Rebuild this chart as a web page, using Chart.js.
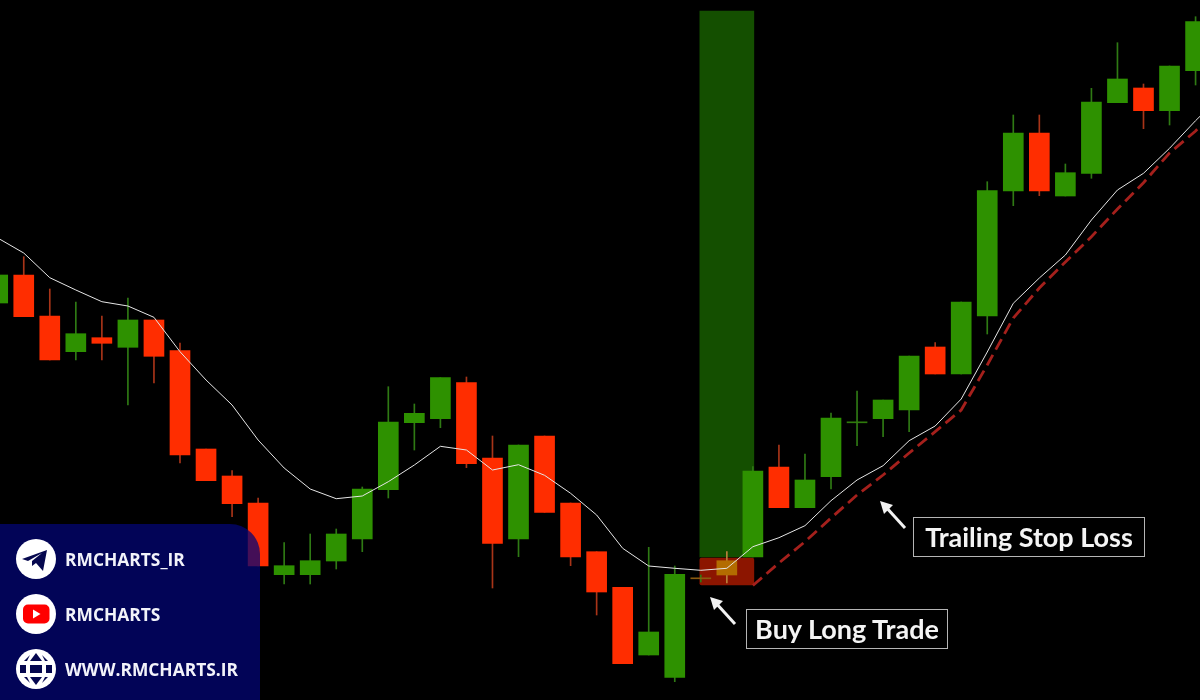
<!DOCTYPE html>
<html>
<head>
<meta charset="utf-8">
<title>Trailing Stop Loss</title>
<script src="https://cdn.jsdelivr.net/npm/chart.js@4"></script>
<style>
  html, body { margin: 0; background: #000; }
  #stage { position: relative; width: 1200px; height: 700px; overflow: hidden; background: #000; }
  #priceChart { position: absolute; left: 0; top: 0; }
  #arrows { position: absolute; left: 0; top: 0; }
  .callout {
    position: absolute; box-sizing: border-box; height: 40px; border: 1.5px solid #b5b5b5;
    color: #f4f4f4; font: 700 27px/37px Lato, sans-serif; text-align: center; white-space: nowrap;
  }
  #panel {
    position: absolute; left: 0; top: 524px; width: 260px; height: 176px;
    background: rgba(3, 5, 118, .74); border-top-right-radius: 30px;
  }
  .row { position: absolute; left: 16px; height: 40px; display: flex; align-items: center; }
  .row svg { width: 40px; height: 40px; margin-right: 9px; }
  .row span { color: #f2f3fa; font: 700 17.4px "Open Sans", sans-serif; }
</style>
</head>
<body>
<div id="stage">
  <canvas id="priceChart" width="1200" height="700"></canvas>

  <svg id="arrows" width="1200" height="700">
    <g stroke="#f2f2f2" stroke-width="3" fill="#f2f2f2">
      <line x1="735" y1="624" x2="715" y2="602" />
      <polygon points="710,597 723,601 714,610" stroke="none" />
      <line x1="905" y1="528" x2="885" y2="506" />
      <polygon points="880,501 893,505 884,514" stroke="none" />
    </g>
  </svg>

  <div class="callout" style="left:746px;top:609px;width:202px">Buy Long Trade</div>
  <div class="callout" style="left:913px;top:517px;width:232px">Trailing Stop Loss</div>

  <div id="panel">
    <div class="row" style="top:15px">
      <svg viewBox="0 0 40 40">
        <circle cx="20" cy="20" r="20" fill="#fff" />
        <path d="M6 20 L31 11 L27 32 L20 24 L16 27 L16 22 L26 14 L12 22 Z" fill="#06084f" />
      </svg>
      <span>RMCHARTS_IR</span>
    </div>
    <div class="row" style="top:70px">
      <svg viewBox="0 0 40 40">
        <circle cx="20" cy="20" r="20" fill="#fff" />
        <rect x="7" y="10.5" width="26.5" height="19" rx="5" fill="#f00" />
        <path d="M17 15.5 L24.5 20 L17 24.5 Z" fill="#fff" />
      </svg>
      <span>RMCHARTS</span>
    </div>
    <div class="row" style="top:125px">
      <svg viewBox="0 0 40 40">
        <circle cx="20" cy="20" r="20" fill="#fff" />
        <g fill="#05074f">
          <rect x="4" y="16" width="6" height="8" />
          <rect x="14" y="16" width="12" height="8" />
          <rect x="30" y="16" width="6" height="8" />
          <path d="M20 4 L26 12 L14 12 Z" />
          <path d="M20 36 L26 28 L14 28 Z" />
          <path d="M8 12 L11 12 L14 6 Z" />
          <path d="M32 12 L29 12 L26 6 Z" />
          <path d="M8 28 L11 28 L14 34 Z" />
          <path d="M32 28 L29 28 L26 34 Z" />
        </g>
      </svg>
      <span>WWW.RMCHARTS.IR</span>
    </div>
  </div>
</div>

<script>
// Candle data (no axis labels there, so the price unit is arbitrary)
const candles = [0, 1, 2, 3, 4, 5, 6, 7, 8, 9, 10, 11, 12, 13, 14, 15, 16, 17, 18, 19, 20, 21, 22, 23,
  24, 25, 26, 27, 28, 29, 30, 31, 32, 33, 34, 35, 36, 37, 38, 39, 40, 41, 42, 43, 44, 45, 46, 47];
const opens = [397, 425, 384, 348.3, 362.3, 352.7, 380, 349.3, 251, 224, 197, 125.3, 125.3, 139, 161, 210.3,
  277.3, 281.3, 317.3, 242, 161, 264, 197, 148.3, 112.7, 45, 22.7, 121.2, 125, 143, 233, 192.3,
  223.3, 277.2, 281.3, 290, 353, 326, 384, 509, 567, 504, 526.7, 597.3, 612, 589.3, 629.3];
const closes = [425, 383.3, 340, 366.3, 356.7, 380, 343.7, 245, 219.3, 196.3, 134, 134.3, 139.3, 166, 211, 278,
  286.7, 322.3, 236.3, 156.7, 255, 187.7, 143, 108, 36.3, 68, 125.7, 122.2, 139.3, 229, 192.3, 220,
  282, 278.2, 300, 344, 326, 398, 509.3, 567, 509, 527.3, 598, 621, 589.3, 634, 678.3];
const highs = [425, 443.3, 411, 398, 384, 402, 380, 357, 251, 229.3, 202, 157.3, 166, 171, 213, 313.3,
  296, 322.3, 323, 264, 255, 264, 197, 148.3, 112.7, 152.7, 134, 125, 148.3, 233.3, 255, 246,
  287, 309, 300, 344, 357.3, 398, 518.3, 585, 585, 536, 611.7, 657.3, 616, 634, 683.3];
const lows = [397, 383.3, 340, 340, 340, 295, 317, 237, 219.3, 183.3, 134, 116, 116, 131, 148.3, 202,
  250, 272.3, 232.3, 112, 143.3, 187.7, 134.3, 85, 36.3, 45, 18.3, 118, 117, 143, 192.3, 192.3,
  211, 254.3, 263.3, 268.3, 326, 326, 366, 494.3, 504.3, 504, 521.7, 597.3, 571.3, 575, 615];

// White moving average and red dashed trailing stop
const movingAverage = [462, 447, 422.3, 410, 398.3, 394, 382.7, 348.3, 320, 295, 260, 232, 211, 201.3, 204, 218.3,
  235, 253.7, 250, 230, 235.3, 224.7, 206.7, 185, 151.7, 134, 131.7, 129.7, 131.7, 153.3, 162.3, 174.3,
  199.3, 220, 234.3, 259.3, 274, 301, 348, 396.7, 422, 445, 480, 510, 526.7, 551.7, 579.3, 605];
const trailingStop = [null, null, null, null, null, null, null, null, null, null, null, null, null, null, null, null,
  null, null, null, null, null, null, null, null, null, null, null, null, null, 114.5, 137, 158.3,
  182, 205, 225, 247, 268.3, 290, 335, 382, 412, 438, 463.3, 491, 517.3, 547, 569, 595];

// Trade box around the entry candle
const entryCandle = 28;
const targetZone = [143, 689];
const stopZone = [115, 142];

const GREEN = '#2e9100';
const RED = '#ff2d00';

function bodyColor(i) {
  if (i === entryCandle) return '#b36c00';
  if (Math.abs(opens[i] - closes[i]) <= 1) return i === 27 ? '#8a5a10' : '#2f7a0c';
  return closes[i] >= opens[i] ? GREEN : RED;
}

function wickColor(i) {
  if (i === entryCandle) return '#b9803a';
  return closes[i] >= opens[i] ? '#2f7a14' : '#a83418';
}

const visible = opens.map((o, i) => i);

const priceChart = new Chart(document.getElementById('priceChart'), {
  type: 'bar',
  data: {
    labels: candles,
    datasets: [
      {
        label: 'Target',
        data: [{ x: entryCandle, y: targetZone }],
        backgroundColor: '#144f00',
        barThickness: 54,
        order: 10
      },
      {
        label: 'Stop',
        data: [{ x: entryCandle, y: stopZone }],
        backgroundColor: '#8c1500',
        barThickness: 54,
        borderRadius: 2,
        borderSkipped: false,
        order: 9
      },
      {
        label: 'Wicks',
        data: visible.map(i => ({ x: candles[i], y: [lows[i], highs[i]] })),
        backgroundColor: visible.map(wickColor),
        barThickness: 1,
        order: 5
      },
      {
        label: 'Bodies',
        data: visible.map(i => ({ x: candles[i], y: [opens[i], closes[i]] })),
        backgroundColor: visible.map(bodyColor),
        barThickness: 20,
        order: 4
      },
      {
        type: 'line',
        label: 'Trailing stop',
        data: trailingStop.map((v, i) => ({ x: candles[i], y: v })),
        borderColor: '#a5201c',
        borderWidth: 2.8,
        borderDash: [12, 6],
        pointRadius: 0,
        tension: 0,
        order: 2
      },
      {
        type: 'line',
        label: 'Moving average',
        data: movingAverage.map((v, i) => ({ x: candles[i], y: v })),
        borderColor: '#e6e6e6',
        borderWidth: 1,
        pointRadius: 0,
        tension: 0,
        order: 1
      }
    ]
  },
  options: {
    responsive: false,
    animation: false,
    devicePixelRatio: 1,
    layout: { padding: 0 },
    plugins: { legend: { display: false }, tooltip: { enabled: false } },
    datasets: { bar: { grouped: false } },
    scales: {
      x: { type: 'linear', display: false, offset: false, min: 0.088, max: 46.17 },
      y: { display: false, min: 0, max: 700 }
    }
  }
});
</script>
</body>
</html>
